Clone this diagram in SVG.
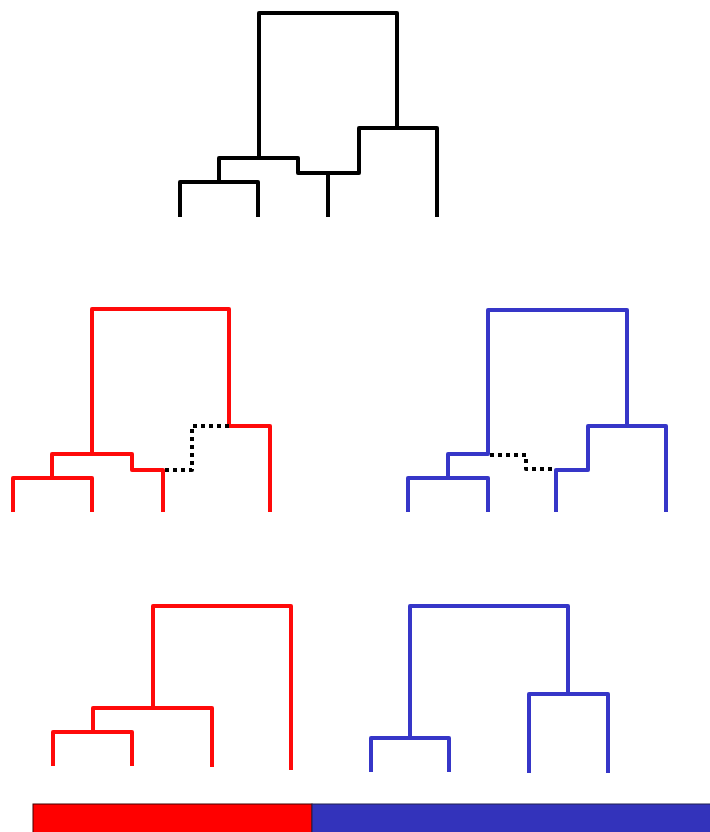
<svg xmlns="http://www.w3.org/2000/svg" width="710" height="832" viewBox="0 0 710 832">
<style>
.t{fill:none;stroke-width:4;stroke-linejoin:round;stroke-linecap:butt}
.k{stroke:#000}
.r{stroke:#ff0a0a}
.b{stroke:#3636c8}
.d{fill:none;stroke:#000;stroke-width:4;stroke-dasharray:4 4;stroke-linejoin:round}
</style>
<rect width="710" height="832" fill="#fff"/>
<g id="tree-top">
<path class="t k" d="M180,217 V182 H258 V217 M219,182 V158 H298 V173 H359 V128 H437 V217 M328,217 V173 M259,158 V13 H397 V128"/>
</g>
<g id="tree-red-mid">
<path class="t r" d="M13,512 V478 H92 V512 M52,478 V454 H132 V470 H163 V512 M92,454 V309 H229 V426 H270 V512"/>
<path class="d" d="M229,426 H192 V470 H163"/>
</g>
<g id="tree-blue-mid">
<path class="t b" d="M408,512 V478 H488 V512 M448,478 V454 H488 V310 H627 V426 M556,512 V470 H588 V426 H666 V512"/>
<path class="d" d="M490,455 H526 V469 H556"/>
</g>
<g id="tree-red-bottom">
<path class="t r" d="M53,766 V732 H132 V766 M93,732 V708 H212 V767 M153,708 V606 H291 V770"/>
</g>
<g id="tree-blue-bottom">
<path class="t b" d="M371,772 V738 H449 V772 M410,738 V606 H568 V694 M529,773 V694 H608 V773"/>
</g>
<g id="bar">
<rect x="33" y="804" width="279" height="30" fill="#ff0000" stroke="#400" stroke-width="1"/>
<rect x="312" y="804" width="400" height="30" fill="#3333bb" stroke="#202050" stroke-width="1"/>
</g>
</svg>
